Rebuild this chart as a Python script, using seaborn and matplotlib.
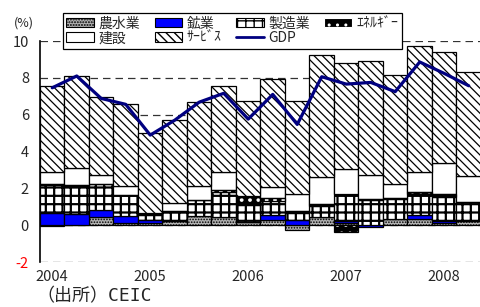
import numpy as np
import matplotlib
matplotlib.use("Agg")
import matplotlib.pyplot as plt
from matplotlib.patches import Patch
from matplotlib.lines import Line2D
import seaborn as sns

# ---- data ----
quarters = ['2004Q1', '2004Q2', '2004Q3', '2004Q4', '2005Q1', '2005Q2', '2005Q3', '2005Q4',
            '2006Q1', '2006Q2', '2006Q3', '2006Q4', '2007Q1', '2007Q2', '2007Q3', '2007Q4',
            '2008Q1', '2008Q2']
agri = [-0.05, 0.0, 0.45, 0.12, 0.12, 0.2, 0.5, 0.45, 0.15, 0.3, -0.25, 0.45, 0.1, 0.0, 0.35, 0.33, 0.12, 0.25]
mining = [0.65, 0.63, 0.38, 0.4, 0.18, 0.0, 0.0, 0.0, 0.0, 0.27, 0.28, 0.0, 0.12, -0.08, 0.0, 0.2, 0.13, 0.0]
manuf = [1.55, 1.5, 1.38, 1.1, 0.25, 0.5, 0.86, 1.33, 0.95, 0.75, 0.4, 0.6, 1.45, 1.35, 1.05, 1.15, 1.3, 1.0]
energy = [0.03, 0.06, 0.02, 0.02, 0.03, 0.05, 0.03, 0.12, 0.45, 0.13, 0.1, 0.12, -0.38, 0.05, 0.05, 0.12, 0.15, 0.02]
construction = [0.67, 0.94, 0.49, 0.5, 0.1, 0.43, 0.73, 1.0, 0.03, 0.62, 0.9, 1.46, 1.36, 1.32, 0.81, 1.06, 1.65, 1.39]
services = [4.65, 4.97, 4.22, 4.44, 4.3, 4.52, 4.56, 4.65, 5.14, 5.85, 5.04, 6.63, 5.76, 6.21, 5.91, 6.87, 6.05, 5.66]
gdp = [7.46, 8.1, 6.88, 6.56, 4.89, 5.7, 6.68, 7.16, 5.76, 7.1, 5.47, 8.06, 7.66, 7.75, 7.25, 8.86, 8.24, 7.57]

year_ticks = [0, 4, 8, 12, 16]
year_labels = ['2004', '2005', '2006', '2007', '2008']
y_ticks = [-2, 0, 2, 4, 6, 8, 10]

labels = ['農水業', '鉱業', '製造業', 'ｴﾈﾙｷﾞｰ', '建設', 'ｻｰﾋﾞｽ', 'GDP']

sns.set_theme(style="white")
plt.rcParams['font.family'] = ['Noto Sans CJK JP', 'DejaVu Sans']

fig = plt.figure(figsize=(4.8, 3.07), dpi=100)
ax = fig.add_axes([40/480, 1-262/307, 440/480, 221/307])

series = [
    # values, face, edge, hatch, hatch lw
    (agri, '#b4b4b4', 'black', '......', 0.8),
    (mining, '#0000ff', 'black', None, 1.0),
    (manuf, 'white', 'black', '++', 1.6),
    (energy, 'black', 'white', '..', 1.5),
    (construction, 'white', 'black', None, 1.0),
    (services, 'white', 'black', '\\\\\\\\', 0.9),
]

pos_base = np.zeros(len(quarters))
neg_base = np.zeros(len(quarters))
for vals, face, edge, hatch, hlw in series:
    v = np.array(vals, dtype=float)
    bottoms = np.where(v >= 0, pos_base, neg_base)
    n_before = len(ax.patches)
    with plt.rc_context({'hatch.linewidth': hlw}):
        sns.barplot(x=quarters, y=v, bottom=bottoms, color=face, saturation=1,
                    width=1.0, edgecolor=edge, linewidth=0.9 if edge == 'black' else 0,
                    hatch=hatch, ax=ax, zorder=2)
    for p in ax.patches[n_before:]:
        if hasattr(p, 'set_hatch_linewidth'):
            p.set_hatch_linewidth(hlw)
    if edge == 'white':
        sns.barplot(x=quarters, y=v, bottom=bottoms, color='black', fill=False,
                    width=1.0, linewidth=0.9, ax=ax, zorder=2.1)
    pos_base = pos_base + np.where(v >= 0, v, 0)
    neg_base = neg_base + np.where(v < 0, v, 0)

sns.lineplot(x=np.arange(len(quarters)), y=gdp, color='#000080', linewidth=2.3, ax=ax, zorder=5)

ax.set_xlim(-0.5, 17.46)
ax.set_ylim(-2, 10)
ax.set_yticks(y_ticks)
ax.set_yticklabels([str(t) for t in y_ticks], fontsize=10.5)
ax.get_yticklabels()[0].set_color('red')
ax.set_xticks(year_ticks)
ax.set_xticklabels(year_labels, fontsize=10.5)
ax.set_xlabel('')
ax.set_ylabel('')
ax.tick_params(axis='y', length=0, pad=8)
ax.tick_params(axis='x', length=0, pad=6)
ax.set_axisbelow(True)
ax.yaxis.grid(True, color='#333333', linestyle=(0, (6, 4)), linewidth=0.9, zorder=0)
ax.xaxis.grid(False)
for s in ['top', 'right', 'bottom']:
    ax.spines[s].set_visible(False)
ax.spines['left'].set_color('black')
ax.spines['left'].set_linewidth(1.2)
ax.set_facecolor('white')

handles = [
    Patch(facecolor='#b4b4b4', edgecolor='black', hatch='......', linewidth=0.8),
    Patch(facecolor='#0000ff', edgecolor='black', linewidth=0.8),
    Patch(facecolor='white', edgecolor='black', hatch='++', linewidth=0.8),
    Patch(facecolor='black', edgecolor='white', hatch='..', linewidth=0.8),
    Patch(facecolor='white', edgecolor='black', linewidth=0.8),
    Patch(facecolor='white', edgecolor='black', hatch='\\\\\\\\', linewidth=0.8),
    Line2D([0], [0], color='#000080', linewidth=2),
]
order = [0, 4, 1, 5, 2, 6, 3]
leg = ax.legend([handles[i] for i in order], [labels[i] for i in order], ncol=4,
                loc='upper left', bbox_to_anchor=(63/480, 1-13/307), bbox_transform=fig.transFigure,
                frameon=True, fancybox=False, edgecolor='black', framealpha=1,
                fontsize=10, borderpad=0.25, handlelength=2.0, handleheight=0.7,
                columnspacing=1.05, labelspacing=0.05, handletextpad=0.3, borderaxespad=0)
leg.get_frame().set_linewidth(0.9)
leg.set_zorder(10)

fig.text(24/480, 1-23/307, '(%)', fontsize=9, ha='center', va='center')
fig.text(36/480, 1-296/307, '（出所）CEIC', fontsize=13, ha='left', va='center',
         family=['DejaVu Sans Mono', 'Noto Sans CJK JP'])

fig.savefig('out.png', dpi=100, facecolor='white')
